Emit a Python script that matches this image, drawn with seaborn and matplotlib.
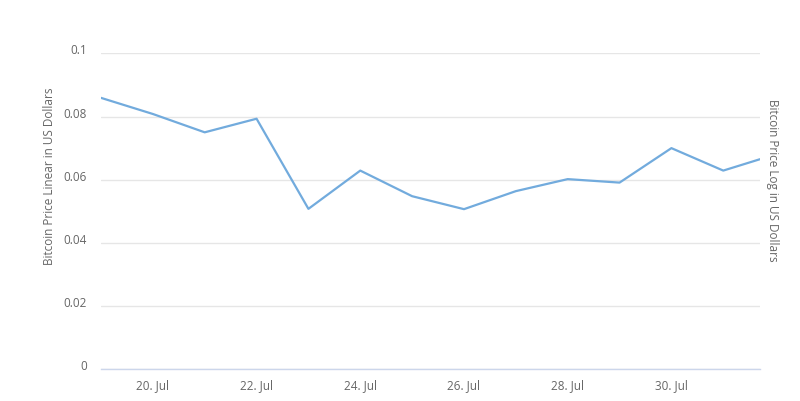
import pandas as pd
import seaborn as sns
import matplotlib.pyplot as plt
import matplotlib.dates as mdates

# daily close, Jul 2010 (last point is an intraday value)
dates = ["2010-07-19 00:00", "2010-07-20 00:00", "2010-07-21 00:00", "2010-07-22 00:00",
         "2010-07-23 00:00", "2010-07-24 00:00", "2010-07-25 00:00", "2010-07-26 00:00",
         "2010-07-27 00:00", "2010-07-28 00:00", "2010-07-29 00:00", "2010-07-30 00:00",
         "2010-07-31 00:00", "2010-07-31 17:00"]
prices = [0.0859, 0.0808, 0.0750, 0.0793, 0.0508, 0.0629, 0.0548,
          0.0507, 0.0564, 0.0602, 0.0591, 0.0700, 0.0629, 0.0665]
y_ticks = [0, 0.02, 0.04, 0.06, 0.08, 0.1]
y_labels = ["0", "0.02", "0.04", "0.06", "0.08", "0.1"]

df = pd.DataFrame({"date": pd.to_datetime(dates, format="%Y-%m-%d %H:%M"), "price": prices})

sns.set_theme(style="white")
plt.rcParams["font.family"] = ["Open Sans", "DejaVu Sans"]

fig = plt.figure(figsize=(8, 4.02), dpi=100)
ax = fig.add_axes([0.12625, 0.0784, 0.95 - 0.12625, 0.865 - 0.0784])

sns.lineplot(data=df, x="date", y="price", ax=ax, color="#72abdd", linewidth=1.6)

ax.set_xlim(df["date"].iloc[0], df["date"].iloc[-1])
ax.set_ylim(0, 0.1)
ax.set_yticks(y_ticks)
ax.set_yticklabels(y_labels)
ax.grid(axis="y", color="#e6e6e6", linewidth=1)
ax.set_axisbelow(True)

ax.xaxis.set_major_locator(mdates.DayLocator(bymonthday=[20, 22, 24, 26, 28, 30]))
ax.xaxis.set_major_formatter(mdates.DateFormatter("%d. %b"))

for s in ["top", "right", "left"]:
    ax.spines[s].set_visible(False)
ax.spines["bottom"].set_color("#ccd6eb")
ax.spines["bottom"].set_linewidth(1)

ax.tick_params(axis="y", length=0, pad=10, labelsize=8.5, labelcolor="#666666")
ax.tick_params(axis="x", direction="inout", length=5, width=0.8, color="#ccd6eb",
               pad=4, labelsize=8.5, labelcolor="#666666")
plt.setp(ax.get_yticklabels(), va="baseline")

ax.set_xlabel("")
ax.set_ylabel("")
fig.text(50 / 800, 1 - 176 / 402, "Bitcoin Price Linear in US Dollars", rotation=90,
         ha="center", va="center", fontsize=8.5, color="#666666")
fig.text(773 / 800, 1 - 180 / 402, "Bitcoin Price Log in US Dollars", rotation=270,
         ha="center", va="center", fontsize=8.5, color="#666666")

fig.savefig("out.png", dpi=100)
